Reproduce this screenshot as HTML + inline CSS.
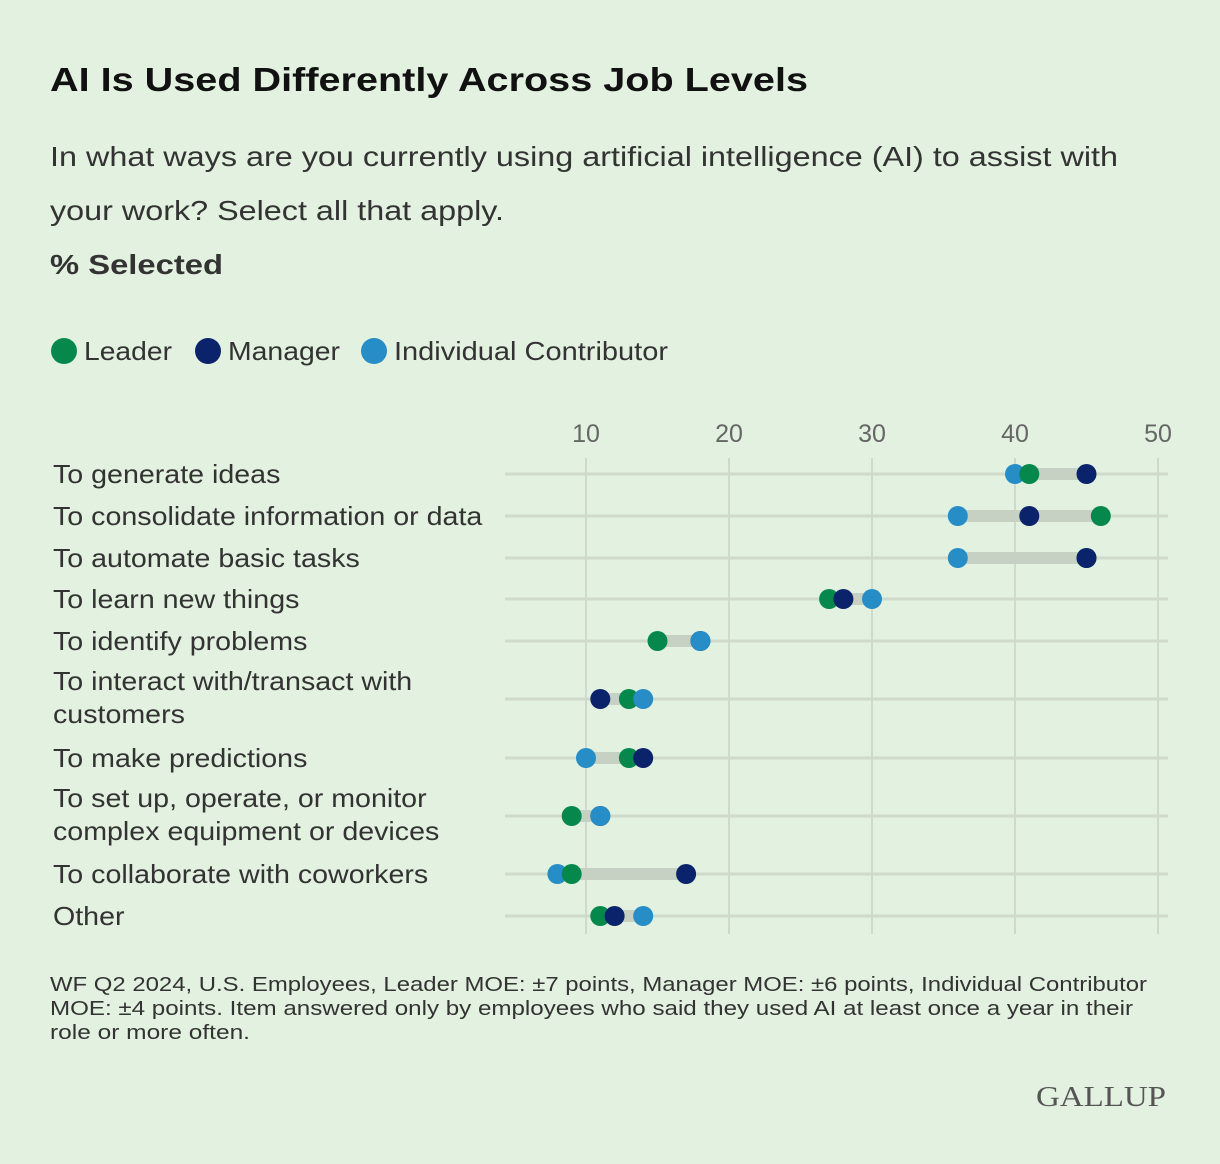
<!DOCTYPE html>
<html><head><meta charset="utf-8"><style>
html,body{margin:0;padding:0;background:#e3f1e0;}
svg{display:block;font-family:"Liberation Sans",sans-serif;}
</style></head><body>
<svg id="chart" width="1220" height="1164" viewBox="0 0 1220 1164">
<rect width="1220" height="1164" fill="#e3f1e0"/>
<text x="50" y="91" font-size="33" font-weight="bold" fill="#111" textLength="758" lengthAdjust="spacingAndGlyphs">AI Is Used Differently Across Job Levels</text>
<text x="50" y="166" font-size="28" fill="#333" textLength="1068" lengthAdjust="spacingAndGlyphs">In what ways are you currently using artificial intelligence (AI) to assist with</text>
<text x="50" y="220" font-size="28" fill="#333" textLength="454" lengthAdjust="spacingAndGlyphs">your work? Select all that apply.</text>
<text x="50" y="274" font-size="28" font-weight="bold" fill="#333" textLength="173" lengthAdjust="spacingAndGlyphs">% Selected</text>
<g id="legend"></g>
<g id="grid"></g>
<g id="labels"></g>
<g id="marks"></g>
<text x="50" y="991" font-size="20" fill="#333" textLength="1097" lengthAdjust="spacingAndGlyphs">WF Q2 2024, U.S. Employees, Leader MOE: ±7 points, Manager MOE: ±6 points, Individual Contributor</text>
<text x="50" y="1015" font-size="20" fill="#333" textLength="1083" lengthAdjust="spacingAndGlyphs">MOE: ±4 points. Item answered only by employees who said they used AI at least once a year in their</text>
<text x="50" y="1039" font-size="20" fill="#333" textLength="200" lengthAdjust="spacingAndGlyphs">role or more often.</text>
<text x="1166" y="1106" font-size="29" fill="#555" text-anchor="end" font-family="Liberation Serif, serif" textLength="130" lengthAdjust="spacingAndGlyphs">GALLUP</text>
</svg>
<script>
const categories=[["To generate ideas"],["To consolidate information or data"],["To automate basic tasks"],["To learn new things"],["To identify problems"],["To interact with/transact with","customers"],["To make predictions"],["To set up, operate, or monitor","complex equipment or devices"],["To collaborate with coworkers"],["Other"]];
const leader=[41,46,45,27,15,13,13,9,9,11];
const manager=[45,41,45,28,18,11,14,11,17,12];
const individual=[40,36,36,30,18,14,10,11,8,14];
const ticks=[10,20,30,40,50];
const seriesNames=["Leader","Manager","Individual Contributor"];
const seriesColors=["#06884c","#0a236b","#268dc6"];
const rowY=[474,516,558,599,641,699,758,816,874,916];
const NS="http://www.w3.org/2000/svg";
function x(v){return 586+(v-10)*14.3;}
function mk(tag,attrs,parent){const e=document.createElementNS(NS,tag);for(const k in attrs)e.setAttribute(k,attrs[k]);parent.appendChild(e);return e;}
const grid=document.getElementById('grid'),labels=document.getElementById('labels'),marks=document.getElementById('marks'),legend=document.getElementById('legend');
ticks.forEach(t=>{
  const l=mk('line',{x1:x(t),x2:x(t),y1:458,y2:934,stroke:'#cfdacb','stroke-width':2},grid);
  
  
  const tx=mk('text',{x:x(t),y:442,'font-size':25,fill:'#666','text-anchor':'middle'},grid);
  tx.textContent=t;
  
  
});
categories.forEach((c,i)=>{
  const y=rowY[i];
  const h=mk('line',{x1:505,x2:1168,y1:y,y2:y,stroke:'#cfdacb','stroke-width':3},grid);
  
  
  const n=c.length;
  c.forEach((s,j)=>{
    const t=mk('text',{x:53,y:(n===1?y+9:y-9+j*33),'font-size':26,fill:'#333'},labels);
    t.textContent=s;
    
    
    const w=t.getComputedTextLength();
    t.setAttribute('textLength',(w*1.1).toFixed(1));
    t.setAttribute('lengthAdjust','spacingAndGlyphs');
  });
  const vals=[leader[i],manager[i],individual[i]];
  const mn=Math.min(...vals),mx=Math.max(...vals);
  const r=mk('line',{x1:x(mn),x2:x(mx),y1:y,y2:y,stroke:'#c6d1c3','stroke-width':12},marks);
  
  
  const order=[0,1,2].sort((a,b)=>vals[a]-vals[b]||a-b);
  order.forEach(s=>{
    const d=mk('circle',{cx:x(vals[s]),cy:y,r:10,fill:seriesColors[s]},marks);
    
    
  });
});
const legX=[64,208,374],legTW=[88,112,274];
seriesNames.forEach((s,i)=>{
  const c=mk('circle',{cx:legX[i],cy:351,r:13,fill:seriesColors[i]},legend);
  
  
  const t=mk('text',{x:legX[i]+20,y:360,'font-size':26,fill:'#333',textLength:legTW[i],lengthAdjust:'spacingAndGlyphs'},legend);
  t.textContent=s;
  
  
});
</script>
</body></html>
